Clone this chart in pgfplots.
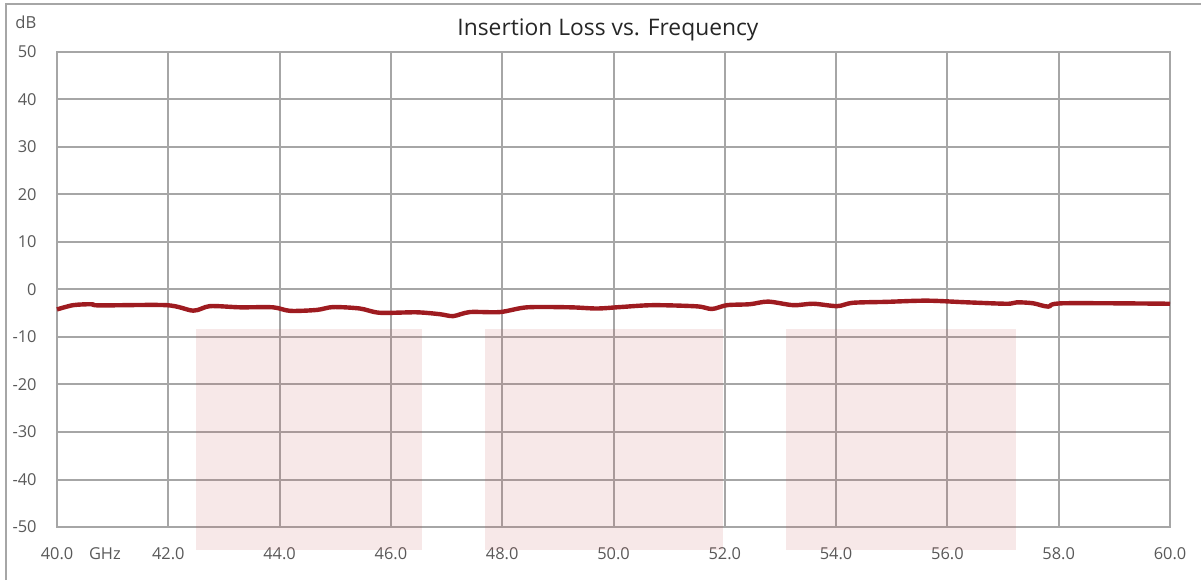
\documentclass[border=0pt]{standalone}
\usepackage{fontspec}
\setmainfont{Open Sans}
\usepackage{pgfplots}
\pgfplotsset{compat=1.18}
\definecolor{tgray}{RGB}{89,89,89}
\definecolor{ggray}{RGB}{166,166,166}
\definecolor{curvec}{RGB}{158,27,32}
\definecolor{pinkc}{RGB}{192,80,77}
\begin{document}
\begin{tikzpicture}[x=1pt,y=1pt]
\useasboundingbox (0,0) rectangle (600.5,290);
\draw[ggray, line width=1pt] (3,0) -- (3,288) -- (600.5,288);
\begin{axis}[
  at={(28.5pt,26.5pt)}, anchor=south west,
  scale only axis, width=556.5pt, height=237.5pt,
  xmin=40, xmax=60, ymin=-50, ymax=50,
  xtick={40,42,...,60},
  xticklabels={40.0,42.0,44.0,46.0,48.0,50.0,52.0,54.0,56.0,58.0,60.0},
  ytick={-50,-40,...,50},
  yticklabels={-50,-40,-30,-20,-10,0,10,20,30,40,50},
  grid=major,
  major grid style={ggray, line width=1pt},
  axis line style={ggray, line width=1.2pt},
  tick style={draw=none},
  ticklabel style={font=\fontsize{8.2}{10}\selectfont, text=tgray},
  yticklabel style={anchor=east, inner sep=0pt, xshift=-10pt},
  xticklabel style={anchor=center, inner sep=0pt, yshift=-13.5pt},
  clip=false,
]
\addplot[draw=none, fill=pinkc, fill opacity=0.13] coordinates {(42.5,-54.8) (46.56,-54.8) (46.56,-8.3) (42.5,-8.3)} -- cycle;
\addplot[draw=none, fill=pinkc, fill opacity=0.13] coordinates {(47.69,-54.8) (51.97,-54.8) (51.97,-8.3) (47.69,-8.3)} -- cycle;
\addplot[draw=none, fill=pinkc, fill opacity=0.13] coordinates {(53.1,-54.8) (57.23,-54.8) (57.23,-8.3) (53.1,-8.3)} -- cycle;
\addplot[curvec, line width=2.2pt, smooth, tension=0.5] coordinates {
(40.0,-4.2) (40.29,-3.3) (40.62,-3.1) (40.77,-3.35) (41.97,-3.3) (42.45,-4.45)
(42.75,-3.5) (43.29,-3.75) (43.88,-3.75) (44.19,-4.5) (44.67,-4.3) (44.96,-3.7)
(45.44,-4.0) (45.80,-4.9) (46.46,-4.8) (46.88,-5.2) (47.12,-5.6) (47.42,-4.75)
(47.96,-4.75) (48.45,-3.75) (49.22,-3.75) (49.70,-4.0) (50.12,-3.7) (50.71,-3.3)
(51.50,-3.55) (51.77,-4.1) (52.04,-3.3) (52.45,-3.1) (52.78,-2.55) (53.23,-3.3)
(53.59,-3.0) (54.02,-3.5) (54.30,-2.8) (54.91,-2.6) (55.63,-2.35) (56.35,-2.7)
(57.07,-3.0) (57.25,-2.7) (57.54,-2.9) (57.81,-3.6) (58.08,-2.9) (60.0,-3.0)
};
\node[text=tgray, font=\fontsize{8.2}{10}\selectfont] at (axis cs:40.86,-55.7) {GHz};
\node[text=tgray, font=\fontsize{8.3}{10}\selectfont] at (axis cs:39.44,56.3) {dB};
\node[text=black!85, font=\fontsize{11.4}{13}\selectfont] at (axis cs:49.9,54.6) {Insertion Loss vs. Frequency};
\end{axis}
\end{tikzpicture}
\end{document}
